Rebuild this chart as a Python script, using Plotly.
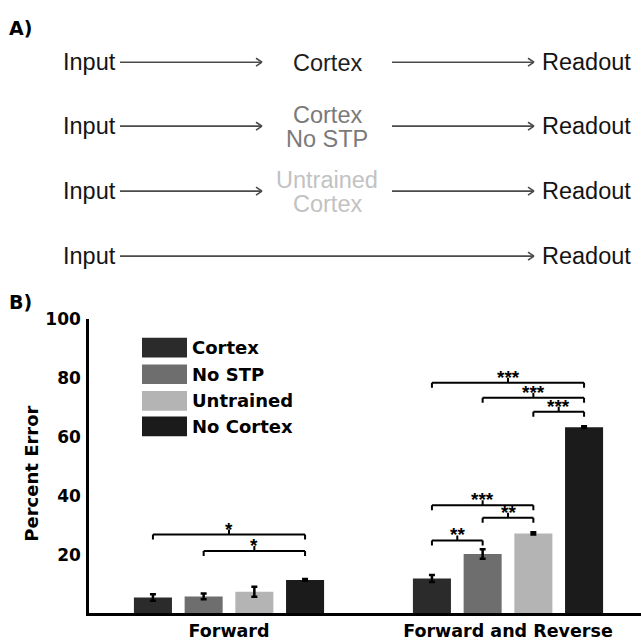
import plotly.graph_objects as go

# ---------------- data ----------------
conditions = ["Cortex", "No STP", "Untrained", "No Cortex"]
colors = ["#2b2b2b", "#6e6e6e", "#b4b4b4", "#1b1b1b"]
tasks = ["Forward", "Forward and Reverse"]

cortex_vals = [5.4, 11.9]
nostp_vals = [5.8, 20.2]
untrained_vals = [7.4, 27.2]
nocortex_vals = [11.4, 63.3]

cortex_err = [1.1, 1.2]
nostp_err = [1.0, 1.6]
untrained_err = [1.7, 0.4]
nocortex_err = [0.3, 0.3]

values = [cortex_vals, nostp_vals, untrained_vals, nocortex_vals]
errors = [cortex_err, nostp_err, untrained_err, nocortex_err]

# significance brackets: (task index, bar i, bar j, level, stars)
sig_task = [0, 0, 1, 1, 1, 1, 1, 1]
sig_i = [0, 1, 0, 1, 0, 2, 1, 0]
sig_j = [3, 3, 1, 2, 2, 3, 3, 3]
sig_level = [26.8, 21.2, 24.8, 32.5, 36.8, 68.5, 73.3, 78.4]
sig_stars = ["*", "*", "**", "**", "***", "***", "***", "***"]

y_ticks = [20, 40, 60, 80, 100]

# diagram rows (panel A)
diagram_mid = [["Cortex"], ["Cortex", "No STP"], ["Untrained", "Cortex"], []]
diagram_mid_colors = ["#1e1e1e", "#7a7a7a", "#c2c2c2", "#000000"]

# ---------------- layout helpers ----------------
W, H = 641, 644
def px(x):
    return x / W
def py(y):
    return 1 - y / H

BARGAP = 0.273
BARGROUPGAP = 0.25
slot = (1 - BARGAP) / len(conditions)

def bar_x(task, i):
    return task + (i - (len(conditions) - 1) / 2) * slot

fig = go.Figure()
for name, col, vals, errs in zip(conditions, colors, values, errors):
    fig.add_trace(go.Bar(
        x=tasks, y=vals, name=name, marker=dict(color=col, line=dict(width=0)),
        error_y=dict(type="data", array=errs, color="black", thickness=2.5, width=3),
        showlegend=False,
    ))

shapes = []
annotations = []

# brackets
hook = 1.7
stem = 1.7
for t, i, j, lev, st in zip(sig_task, sig_i, sig_j, sig_level, sig_stars):
    x0, x1 = bar_x(t, i), bar_x(t, j)
    xm = (x0 + x1) / 2
    ln = dict(color="black", width=2)
    shapes.append(dict(type="line", xref="x", yref="y", x0=x0, x1=x1, y0=lev, y1=lev, line=ln))
    shapes.append(dict(type="line", xref="x", yref="y", x0=x0, x1=x0, y0=lev, y1=lev - hook, line=ln))
    shapes.append(dict(type="line", xref="x", yref="y", x0=x1, x1=x1, y0=lev, y1=lev - hook, line=ln))
    shapes.append(dict(type="line", xref="x", yref="y", x0=xm, x1=xm, y0=lev, y1=lev + stem, line=ln))
    annotations.append(dict(xref="x", yref="y", x=xm, y=lev + stem, text=st, showarrow=False,
                            yanchor="bottom", xanchor="center", yshift=-12,
                            font=dict(family="Liberation Sans", size=19, color="black", weight="bold")))

# legend (manual)
leg_rows = [343, 370, 397, 423]
for name, col, ry in zip(conditions, colors, leg_rows):
    shapes.append(dict(type="rect", xref="paper", yref="paper",
                       x0=px(142), x1=px(187), y0=py(ry + 10), y1=py(ry - 10),
                       fillcolor=col, line=dict(width=0)))
    annotations.append(dict(xref="paper", yref="paper", x=px(190), y=py(ry), text=name,
                            showarrow=False, xanchor="left", yanchor="middle",
                            font=dict(family="DejaVu Sans", size=18, color="black", weight="bold")))

# y-axis title
annotations.append(dict(xref="paper", yref="paper", x=px(32), y=py(471), text="Percent Error",
                        textangle=-90, showarrow=False, xanchor="center", yanchor="middle",
                        font=dict(family="DejaVu Sans", size=18, color="black", weight="bold")))

# panel labels
for lab, ly in [("A)", 18), ("B)", 297)]:
    annotations.append(dict(xref="paper", yref="paper", x=px(7), y=py(ly), text=lab,
                            showarrow=False, xanchor="left", yanchor="middle",
                            font=dict(family="DejaVu Sans", size=19, color="black", weight="bold")))

# panel A diagram
row_y = [53, 118, 184, 250]
fontA = dict(family="Liberation Sans", size=23.5, color="#141414")
arrow_col = "#4a4a4a"
def arrow(xa, xb, yy):
    ln = dict(color=arrow_col, width=1.6)
    shapes.append(dict(type="line", xref="paper", yref="paper", x0=px(xa), x1=px(xb), y0=py(yy), y1=py(yy), line=ln))
    shapes.append(dict(type="line", xref="paper", yref="paper", x0=px(xb - 6), x1=px(xb), y0=py(yy - 4), y1=py(yy), line=ln))
    shapes.append(dict(type="line", xref="paper", yref="paper", x0=px(xb - 6), x1=px(xb), y0=py(yy + 4), y1=py(yy), line=ln))

for ry, mid, mcol in zip(row_y, diagram_mid, diagram_mid_colors):
    annotations.append(dict(xref="paper", yref="paper", x=px(61), y=py(ry), text="Input",
                            showarrow=False, xanchor="left", yanchor="middle", font=fontA))
    annotations.append(dict(xref="paper", yref="paper", x=px(540), y=py(ry), text="Readout",
                            showarrow=False, xanchor="left", yanchor="middle", font=fontA))
    if mid:
        n = len(mid)
        for k, line_text in enumerate(mid):
            ly = ry + 1 + (k - (n - 1) / 2) * 24
            annotations.append(dict(xref="paper", yref="paper", x=px(327), y=py(ly), text=line_text,
                                    showarrow=False, xanchor="center", yanchor="middle",
                                    font=dict(family="Liberation Sans", size=23.5, color=mcol)))
        arrow(120, 262, ry)
        arrow(392, 534, ry)
    else:
        arrow(120, 534, ry)

# category range so that group centres land at the reference positions
unit = 279.0
x_left = 0 - (229 - 89) / unit
x_right = 1 + (641 - 508) / unit

fig.update_layout(
    width=W, height=H, margin=dict(l=0, r=0, t=0, b=0),
    paper_bgcolor="white", plot_bgcolor="white",
    barmode="group", bargap=BARGAP, bargroupgap=BARGROUPGAP,
    shapes=shapes, annotations=annotations,
    xaxis=dict(domain=[px(89), 1.0], range=[x_left, x_right], showline=True, linecolor="black",
               linewidth=2.5, ticks="", showgrid=False, zeroline=False,
               tickfont=dict(family="DejaVu Sans", size=17.5, color="black", weight="bold")),
    yaxis=dict(domain=[py(613), py(314)], range=[0, 100], tickvals=y_ticks, showline=True,
               linecolor="black", linewidth=2.5, ticks="", showgrid=False, zeroline=False,
               ticklabelstandoff=2,
               tickfont=dict(family="DejaVu Sans", size=17, color="black", weight="bold")),
)

fig.write_html("out.html")
